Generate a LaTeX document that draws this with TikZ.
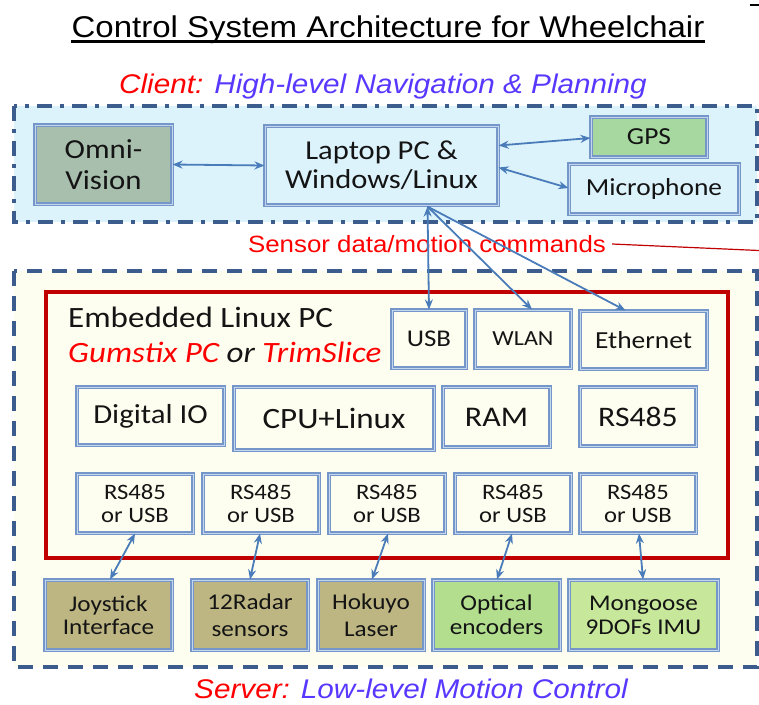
\documentclass[tikz,border=0pt]{standalone}
\usepackage{fontspec}
\setmainfont[FakeStretch=1.1]{Liberation Sans}
\newfontfamily\calib[FakeStretch=1.12]{Carlito}
\usetikzlibrary{arrows.meta}
\definecolor{frameblue}{RGB}{59,92,140}
\definecolor{clientfill}{RGB}{221,243,252}
\definecolor{serverfill}{RGB}{254,254,240}
\definecolor{pcred}{RGB}{192,0,0}
\definecolor{boxline}{RGB}{116,150,200}
\definecolor{boxlight}{RGB}{196,214,238}
\definecolor{arrowblue}{RGB}{74,124,186}
\definecolor{omnifill}{RGB}{169,191,174}
\definecolor{gpsfill}{RGB}{166,216,160}
\definecolor{tanfill}{RGB}{189,182,131}
\definecolor{optfill}{RGB}{178,222,142}
\definecolor{imufill}{RGB}{199,231,154}
\definecolor{labred}{RGB}{255,0,0}
\definecolor{labviolet}{RGB}{88,56,255}
\definecolor{txt}{RGB}{20,20,20}
\newcommand\fs[2]{\fontsize{#1}{#2}\selectfont}
\tikzset{
  box/.style={draw=boxline, double=boxlight, double distance=0.9pt, line width=1.1pt,
    inner sep=0pt, align=center, text=txt, font=\calib},
  inbox/.style={box, fill=serverfill},
  biarrow/.style={draw=arrowblue, line width=1.8pt,
    {Stealth[length=10pt,width=8pt]}-{Stealth[length=10pt,width=8pt]}},
  toarrow/.style={draw=arrowblue, line width=1.8pt,
    -{Stealth[length=10pt,width=8pt]}}
}
\begin{document}
\begin{tikzpicture}[x=1pt,y=-1pt]
\useasboundingbox (0,0) rectangle (759,704);

% title
\node[inner sep=0pt, anchor=base, font=\fs{30}{36}] (title) at (388,37)
  {Control System Architecture for Wheelchair};
\draw[line width=2.5pt] ([yshift=-4.5pt]title.base west) -- ([yshift=-4.5pt]title.base east);
\coordinate (tick1) at (750,5);
\coordinate (tick2) at (759,5);
\draw[line width=2pt] (tick1) -- (tick2);

% client frame
\node[inner sep=0pt, anchor=base, font=\itshape\fs{27}{30}] (clientlab) at (383,93)
  {\textcolor{labred}{Client:} \textcolor{labviolet}{High-level Navigation \& Planning}};
\draw[frameblue, fill=clientfill, line width=4.5pt,
  dash pattern=on 15pt off 8pt on 4pt off 8pt] (14,106) rectangle (757,222);

\node[box, fill=omnifill, minimum width=137pt, minimum height=79pt, font=\calib\fs{27.5}{31}]
  (omni) at (103.5,164.5) {Omni-\\Vision};
\node[box, fill=clientfill, minimum width=233pt, minimum height=79pt, font=\calib\fs{27.3}{29}]
  (laptop) at (381.5,165.5) {Laptop PC \&\\Windows/Linux};
\node[box, fill=gpsfill, minimum width=116pt, minimum height=40pt, font=\calib\fs{24.5}{28}]
  (gps) at (649,137) {GPS};
\node[box, fill=clientfill, minimum width=170pt, minimum height=50pt, font=\calib\fs{24.5}{28}]
  (mic) at (654,189) {Microphone};

\draw[biarrow] (omni.east) -- (laptop.west);
\draw[biarrow] ([yshift=20pt]laptop.east) -- ([yshift=-1pt]gps.west);
\draw[biarrow] ([yshift=-2pt]laptop.east) -- ([yshift=1pt]mic.west);

% link label
\node[inner sep=0pt, anchor=base, text=labred, font=\fs{23.5}{26}] (linklab) at (427,252)
  {Sensor data/motion commands};
\coordinate (linkend) at (759,250.5);
\draw[pcred, line width=1.2pt] ([xshift=6pt,yshift=8pt]linklab.base east) -- (linkend);

% server frame
\draw[frameblue, fill=serverfill, line width=4.5pt,
  dash pattern=on 15pt off 10pt] (14,271) rectangle (757,667);
\node[inner sep=0pt, anchor=base, font=\itshape\fs{27}{30}] (serverlab) at (411,698)
  {\textcolor{labred}{Server:} \textcolor{labviolet}{Low-level Motion Control}};

% embedded PC
\draw[pcred, line width=4pt] (46,292) rectangle (728,558);
\node[anchor=base west, inner sep=0pt, text=txt, font=\calib\fs{29.5}{30}] (emb) at (68,327)
  {Embedded Linux PC};
\node[anchor=base west, inner sep=0pt, text=txt, font=\calib\itshape\fs{29.5}{30}] (gum) at (68,362)
  {\textcolor{labred}{Gumstix PC} or \textcolor{labred}{TrimSlice}};

\node[inbox, minimum width=74pt, minimum height=58pt, font=\calib\fs{24}{28}]
  (usb) at (429,339) {USB};
\node[inbox, minimum width=96pt, minimum height=58pt, font=\calib\fs{21.5}{26}]
  (wlan) at (523,339) {WLAN};
\node[inbox, minimum width=127pt, minimum height=58pt, font=\calib\fs{24.5}{28}]
  (eth) at (643.5,340) {Ethernet};

\coordinate (hub) at ([xshift=46pt,yshift=-1pt]laptop.south);
\draw[biarrow] (hub) -- (usb.north);
\draw[toarrow] (hub) -- ([xshift=9pt]wlan.north);
\draw[toarrow] (hub) -- ([xshift=-18pt]eth.north);

\node[inbox, minimum width=147pt, minimum height=58pt, font=\calib\fs{27.5}{30}]
  (dio) at (150.5,416) {Digital IO};
\node[inbox, minimum width=200pt, minimum height=63pt, font=\calib\fs{29.5}{32}]
  (cpu) at (334,418.5) {CPU+Linux};
\node[inbox, minimum width=107pt, minimum height=60pt, font=\calib\fs{28.5}{32}]
  (ram) at (496.5,417) {RAM};
\node[inbox, minimum width=116pt, minimum height=59pt, font=\calib\fs{28.3}{32}]
  (rsa) at (638,416.5) {RS485};

\foreach \n/\x in {rs1/135, rs2/261, rs3/387, rs4/513, rs5/638}
  \node[inbox, minimum width=116pt, minimum height=59pt, font=\calib\fs{22}{23}]
    (\n) at (\x,503.5) {RS485\\or USB};

% devices
\node[box, fill=tanfill, minimum width=127pt, minimum height=70pt, font=\calib\fs{22.5}{23}]
  (joy) at (108.5,615) {Joystick\\Interface};
\node[box, fill=tanfill, minimum width=116pt, minimum height=70pt, font=\calib\fs{22.5}{27}]
  (radar) at (250,615) {12Radar\\sensors};
\node[box, fill=tanfill, minimum width=106pt, minimum height=70pt, font=\calib\fs{22.5}{27}]
  (hok) at (371,615) {Hokuyo\\Laser};
\node[box, fill=optfill, minimum width=127pt, minimum height=70pt, font=\calib\fs{22.5}{24}]
  (opt) at (496.5,615) {Optical\\encoders};
\node[box, fill=imufill, minimum width=149pt, minimum height=70pt, font=\calib\fs{22.5}{24}]
  (imu) at (643.5,615) {Mongoose\\9DOFs IMU};

\draw[biarrow] (rs1.south) -- ([xshift=1.5pt]joy.north);
\draw[biarrow] ([xshift=-1pt]rs2.south) -- (radar.north);
\draw[biarrow] ([xshift=1pt]rs3.south) -- ([xshift=1pt]hok.north);
\draw[biarrow] ([xshift=-1pt]rs4.south) -- ([xshift=0.5pt]opt.north);
\draw[biarrow] ([xshift=1pt]rs5.south) -- ([xshift=-0.5pt]imu.north);
\end{tikzpicture}
\end{document}
